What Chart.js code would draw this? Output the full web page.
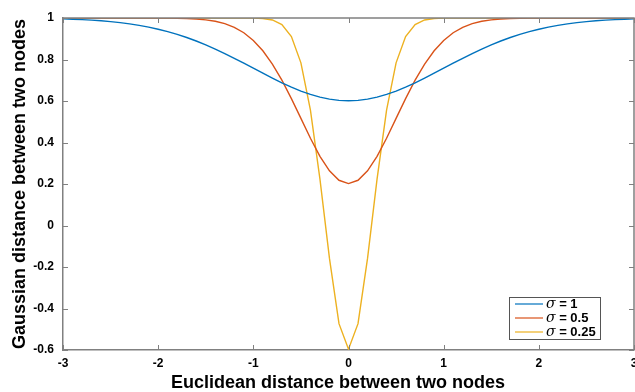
<!DOCTYPE html>
<html>
<head>
<meta charset="utf-8">
<script src="https://cdn.jsdelivr.net/npm/chart.js@4"></script>
<style>
  body { margin: 0; background: #fff; }
  canvas { display: block; }
</style>
</head>
<body>
<canvas id="gauss" width="635" height="392"></canvas>
<script>
// x samples (Euclidean distance), step 0.1
const xs = [
  -3.0, -2.9, -2.8, -2.7, -2.6, -2.5, -2.4, -2.3, -2.2, -2.1,
  -2.0, -1.9, -1.8, -1.7, -1.6, -1.5, -1.4, -1.3, -1.2, -1.1,
  -1.0, -0.9, -0.8, -0.7, -0.6, -0.5, -0.4, -0.3, -0.2, -0.1,
  0.0,
  0.1, 0.2, 0.3, 0.4, 0.5, 0.6, 0.7, 0.8, 0.9, 1.0,
  1.1, 1.2, 1.3, 1.4, 1.5, 1.6, 1.7, 1.8, 1.9, 2.0,
  2.1, 2.2, 2.3, 2.4, 2.5, 2.6, 2.7, 2.8, 2.9, 3.0
];

// sigma = 1
const sigma1 = [
  0.9956, 0.9940, 0.9921, 0.9896, 0.9864, 0.9825, 0.9776, 0.9717, 0.9645, 0.9560,
  0.9460, 0.9344, 0.9210, 0.9059, 0.8891, 0.8705, 0.8503, 0.8286, 0.8058, 0.7821,
  0.7580, 0.7339, 0.7103, 0.6877, 0.6668, 0.6479, 0.6317, 0.6186, 0.6090, 0.6031,
  0.6011,
  0.6031, 0.6090, 0.6186, 0.6317, 0.6479, 0.6668, 0.6877, 0.7103, 0.7339, 0.7580,
  0.7821, 0.8058, 0.8286, 0.8503, 0.8705, 0.8891, 0.9059, 0.9210, 0.9344, 0.9460,
  0.9560, 0.9645, 0.9717, 0.9776, 0.9825, 0.9864, 0.9896, 0.9921, 0.9940, 0.9956
];

// sigma = 0.5
const sigma05 = [
  1.0, 1.0, 1.0, 1.0, 1.0, 1.0, 1.0, 1.0, 1.0, 1.0,
  0.9997, 0.9994, 0.9988, 0.9975, 0.9952, 0.9911, 0.9842, 0.9728, 0.9552, 0.9291,
  0.8920, 0.8421, 0.7782, 0.7005, 0.6116, 0.5161, 0.4206, 0.3336, 0.2635, 0.2179,
  0.2021,
  0.2179, 0.2635, 0.3336, 0.4206, 0.5161, 0.6116, 0.7005, 0.7782, 0.8421, 0.8920,
  0.9291, 0.9552, 0.9728, 0.9842, 0.9911, 0.9952, 0.9975, 0.9988, 0.9994, 0.9997,
  1.0, 1.0, 1.0, 1.0, 1.0, 1.0, 1.0, 1.0, 1.0, 1.0
];

// sigma = 0.25
const sigma025 = [
  1.0, 1.0, 1.0, 1.0, 1.0, 1.0, 1.0, 1.0, 1.0, 1.0,
  1.0, 1.0, 1.0, 1.0, 1.0, 1.0, 1.0, 1.0, 1.0, 0.9999,
  0.9995, 0.9976, 0.9905, 0.9683, 0.9104, 0.7840, 0.5563, 0.2233, -0.1588, -0.4731,
  -0.5958,
  -0.4731, -0.1588, 0.2233, 0.5563, 0.7840, 0.9104, 0.9683, 0.9905, 0.9976, 0.9995,
  0.9999, 1.0, 1.0, 1.0, 1.0, 1.0, 1.0, 1.0, 1.0, 1.0,
  1.0, 1.0, 1.0, 1.0, 1.0, 1.0, 1.0, 1.0, 1.0, 1.0
];

const seriesNames = ['1', '0.5', '0.25'];
const seriesColors = ['#0072BD', '#D95319', '#EDB120'];
const xTitle = 'Euclidean distance between two nodes';
const yTitle = 'Gaussian distance between two nodes';

const axisColor = '#808080';
const fontFam = '"Liberation Sans", Arial, Helvetica, sans-serif';

function pts(ys) {
  return xs.map((x, i) => ({ x: x, y: ys[i] }));
}

// box on top/right, inward tick marks, axis titles, legend in lower right
const matlabLook = {
  id: 'matlabLook',
  afterDraw(chart) {
    const ctx = chart.ctx;
    const a = chart.chartArea;
    const sx = chart.scales.x, sy = chart.scales.y;
    ctx.save();
    ctx.strokeStyle = axisColor;
    ctx.lineWidth = 1.5;
    ctx.beginPath();
    ctx.moveTo(a.left, a.top); ctx.lineTo(a.right, a.top); ctx.lineTo(a.right, a.bottom);
    ctx.stroke();
    ctx.lineWidth = 1;
    const tl = 5;
    ctx.beginPath();
    sx.ticks.forEach(t => {
      const px = Math.round(sx.getPixelForValue(t.value)) + 0.5;
      ctx.moveTo(px, a.bottom); ctx.lineTo(px, a.bottom - tl);
      ctx.moveTo(px, a.top); ctx.lineTo(px, a.top + tl);
    });
    sy.ticks.forEach(t => {
      const py = Math.round(sy.getPixelForValue(t.value)) + 0.5;
      ctx.moveTo(a.left, py); ctx.lineTo(a.left + tl, py);
      ctx.moveTo(a.right, py); ctx.lineTo(a.right - tl, py);
    });
    ctx.stroke();

    // axis titles
    ctx.fillStyle = '#000';
    ctx.textAlign = 'center';
    ctx.textBaseline = 'middle';
    ctx.font = 'bold 18px ' + fontFam;
    ctx.fillText(xTitle, 338, 383);
    ctx.save();
    ctx.translate(20, (a.top + a.bottom) / 2);
    ctx.rotate(-Math.PI / 2);
    ctx.font = 'bold 18px ' + fontFam;
    ctx.fillText(yTitle, 0, 0);
    ctx.restore();

    // legend
    ctx.textAlign = 'left';
    const bx = 509, by = 297, bw = 91, bh = 42;
    ctx.fillStyle = '#fff';
    ctx.fillRect(bx, by, bw, bh);
    ctx.strokeStyle = '#555';
    ctx.lineWidth = 1;
    ctx.strokeRect(bx + 0.5, by + 0.5, bw, bh);
    chart.data.datasets.forEach((ds, i) => {
      const y = by + 7 + i * 14;
      ctx.strokeStyle = ds.borderColor;
      ctx.lineWidth = 1.2;
      ctx.beginPath();
      ctx.moveTo(bx + 6, y); ctx.lineTo(bx + 34, y);
      ctx.stroke();
      ctx.fillStyle = '#000';
      ctx.font = 'italic 14px "DejaVu Serif", serif';
      ctx.fillText('\u03c3', bx + 37, y);
      const w = ctx.measureText('\u03c3').width;
      ctx.font = 'bold 13px ' + fontFam;
      ctx.fillText(' = ' + seriesNames[i], bx + 37 + w, y);
    });
    ctx.restore();
  }
};

new Chart(document.getElementById('gauss'), {
  type: 'line',
  data: {
    datasets: seriesNames.map((n, i) => ({
      label: '\u03c3 = ' + n,
      data: pts([sigma1, sigma05, sigma025][i]),
      borderColor: seriesColors[i],
      borderWidth: 1.4,
      pointRadius: 0,
      tension: 0,
      fill: false
    }))
  },
  options: {
    responsive: false,
    animation: false,
    layout: { padding: { left: 10, top: 18, right: 1, bottom: 0 } },
    plugins: { legend: { display: false }, tooltip: { enabled: false } },
    scales: {
      x: {
        type: 'linear',
        min: -3, max: 3,
        grid: { display: false, drawTicks: false },
        border: { display: true, color: axisColor, width: 1.5 },
        ticks: { stepSize: 1, padding: 6, color: '#000', font: { family: fontFam, size: 12, weight: 'bold' } },
        afterFit(s) { s.height = 42; s.paddingLeft = 0; s.paddingRight = 0; }
      },
      y: {
        min: -0.6, max: 1,
        grid: { display: false, drawTicks: false },
        border: { display: true, color: axisColor, width: 1.5 },
        ticks: {
          stepSize: 0.2, padding: 9, color: '#000',
          font: { family: fontFam, size: 12, weight: 'bold' },
          callback: v => String(Math.round(v * 10) / 10)
        },
        afterFit(s) { s.width = 53; s.paddingTop = 0; s.paddingBottom = 0; }
      }
    }
  },
  plugins: [matlabLook]
});
</script>
</body>
</html>
